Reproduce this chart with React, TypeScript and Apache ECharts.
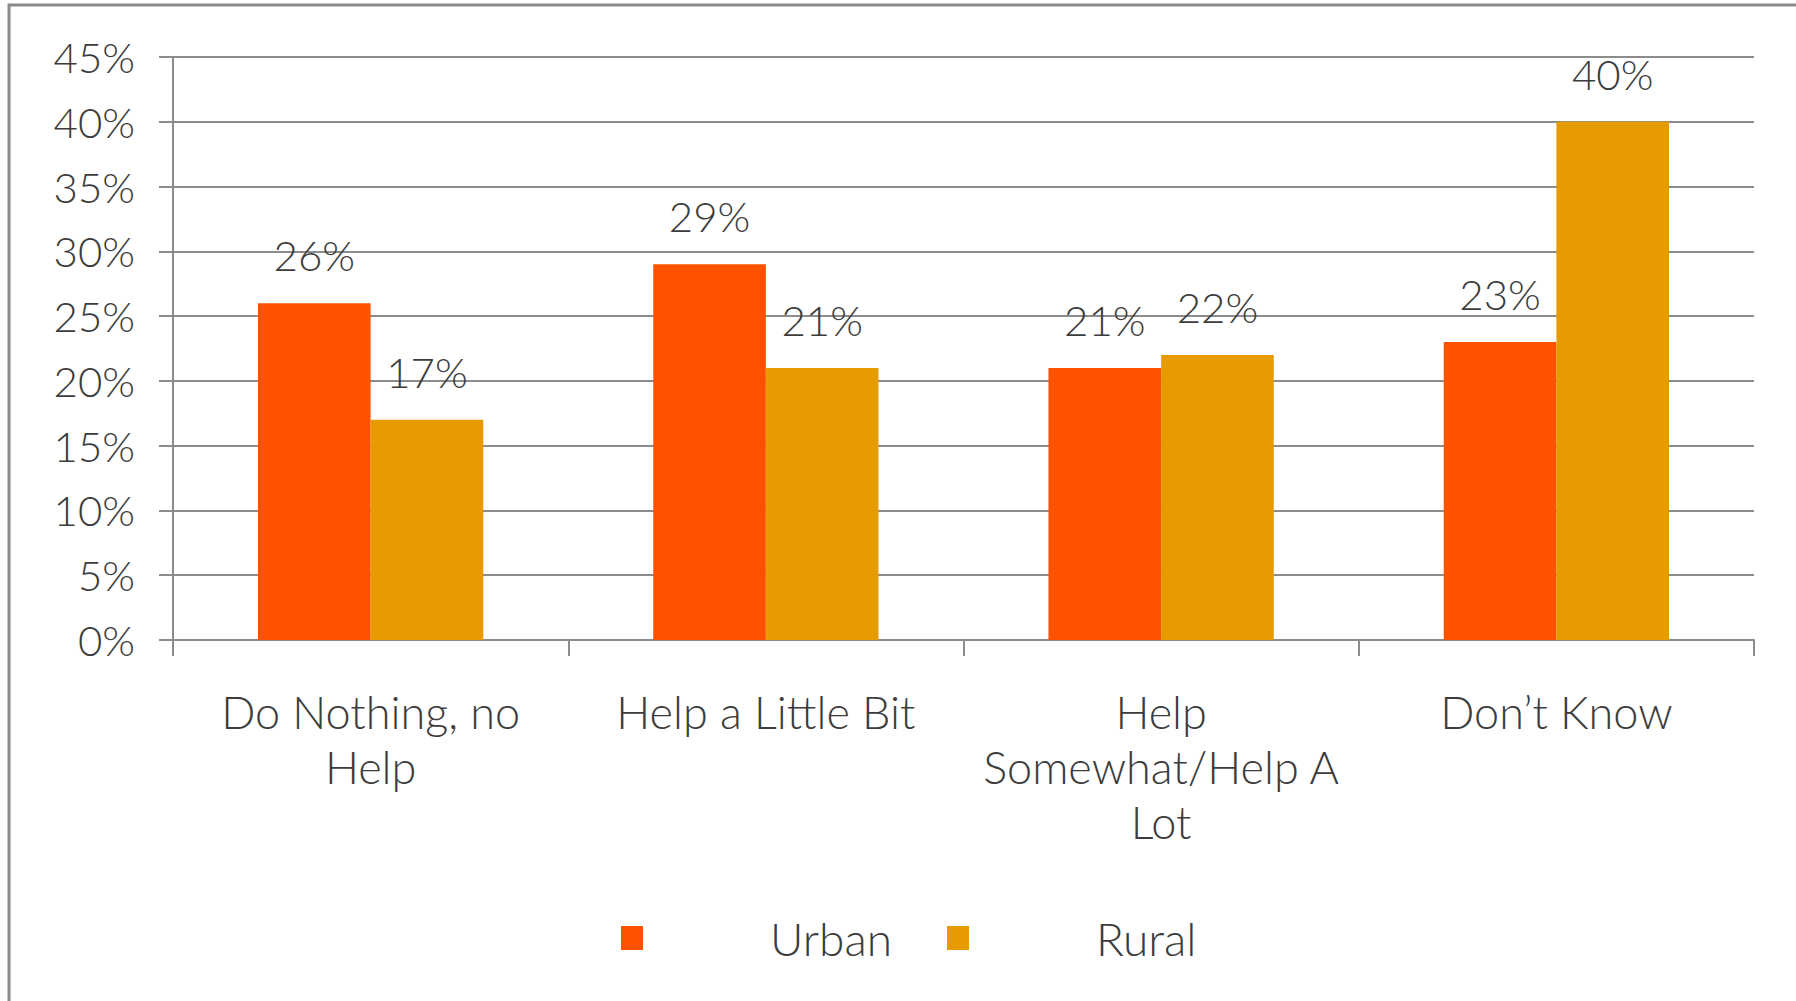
import React, { useEffect, useRef } from "react";
import * as echarts from "echarts";

const categories = [
  "Do Nothing, no\nHelp",
  "Help a Little Bit",
  "Help\nSomewhat/Help A\nLot",
  "Don\u2019t Know",
];
const seriesNames = ["Urban", "Rural"];
const urbanValues = [26, 29, 21, 23];
const ruralValues = [17, 21, 22, 40];
const yMin = 0;
const yMax = 45;
const yStep = 5;

const FONT = "Lato, 'Open Sans', sans-serif";
const TEXT = "#3c3c3c";
const GRID = "#8c8c8c";

export default function App() {
  const ref = useRef<HTMLDivElement>(null);
  useEffect(() => {
    if (!ref.current) return;
    const chart = echarts.init(ref.current, null, { renderer: "svg" });
    const labelStyle = {
      show: true,
      position: "top" as const,
      distance: 27,
      formatter: "{c}%",
      fontFamily: FONT,
      fontWeight: 300,
      fontSize: 42,
      color: TEXT,
    };
    chart.setOption({
      animation: false,
      backgroundColor: "#ffffff",
      textStyle: { fontFamily: FONT },
      graphic: [
        {
          type: "rect",
          shape: { x: 9, y: 5, width: 1820, height: 1030 },
          style: { fill: "none", stroke: "#8a8a8a", lineWidth: 3 },
          silent: true,
        },
      ],
      grid: { left: 173, right: 42, top: 57, bottom: 361 },
      legend: {
        data: seriesNames,
        left: 621,
        top: 915,
        padding: 0,
        icon: "rect",
        itemWidth: 22,
        itemHeight: 24,
        itemGap: 55,
        textStyle: {
          fontFamily: FONT,
          fontWeight: 300,
          fontSize: 46,
          color: TEXT,
          padding: [0, 0, 0, 122],
        },
      },
      xAxis: {
        type: "category",
        data: categories,
        axisLine: { show: true, lineStyle: { color: GRID, width: 2 } },
        axisTick: { show: true, length: 16, lineStyle: { color: GRID, width: 2 } },
        axisLabel: {
          interval: 0,
          margin: 44,
          fontFamily: FONT,
          fontWeight: 300,
          fontSize: 45,
          lineHeight: 55,
          color: TEXT,
          align: "center",
        },
      },
      yAxis: {
        type: "value",
        min: yMin,
        max: yMax,
        interval: yStep,
        axisLine: { show: true, lineStyle: { color: GRID, width: 2 } },
        axisTick: { show: true, length: 14, lineStyle: { color: GRID, width: 2 } },
        splitLine: { show: true, lineStyle: { color: GRID, width: 2 } },
        axisLabel: {
          formatter: "{value}%",
          margin: 38,
          fontFamily: FONT,
          fontWeight: 300,
          fontSize: 42,
          color: TEXT,
        },
      },
      series: [
        {
          name: seriesNames[0],
          type: "bar",
          data: urbanValues,
          barGap: "0%",
          barCategoryGap: "43%",
          itemStyle: { color: "#FF5200" },
          label: labelStyle,
        },
        {
          name: seriesNames[1],
          type: "bar",
          data: ruralValues,
          barGap: "0%",
          barCategoryGap: "43%",
          itemStyle: { color: "#E69C00" },
          label: labelStyle,
        },
      ],
    });
    return () => chart.dispose();
  }, []);
  return (
    <div
      ref={ref}
      style={{ position: "fixed", left: 0, top: 0, width: 1796, height: 1001 }}
    />
  );
}
